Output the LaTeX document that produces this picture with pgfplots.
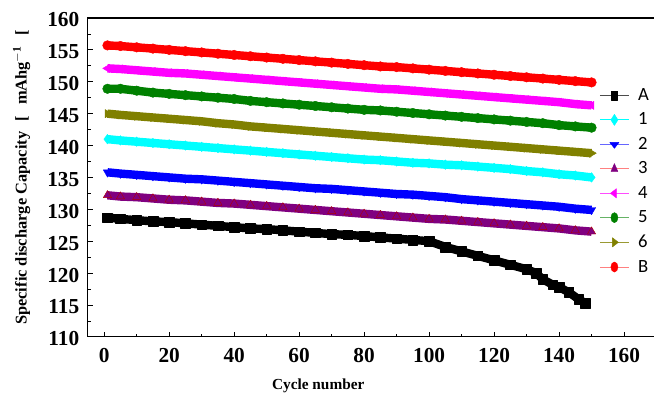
\documentclass[border=0pt]{standalone}
\usepackage{pgfplots}
\pgfplotsset{compat=1.18}
\usepackage{fontspec}
\setmainfont{Liberation Serif}
\newfontfamily\legfont{Carlito}
\definecolor{olv}{HTML}{808000}
\definecolor{prp}{HTML}{800080}
\definecolor{grn}{HTML}{008000}
\definecolor{mag}{HTML}{FF00FF}
\definecolor{cyn}{HTML}{00FFFF}
\definecolor{rd}{HTML}{FF0000}
\definecolor{bl}{HTML}{0000FF}
\begin{document}
\begin{tikzpicture}
\begin{axis}[
  name=ax,
  scale only axis,
  width=426.6pt, height=239.25pt,
  xmin=-5, xmax=170, ymin=110, ymax=160,
  xtick={0,20,...,160}, ytick={110,115,...,160},
  minor xtick={10,30,...,170}, minor ytick={112.5,117.5,...,157.5},
  tick align=inside, xtick pos=bottom, ytick pos=left,
  major tick length=3.5pt, minor tick length=2.2pt,
  /pgf/number format/assume math mode=true,
  ticklabel style={font=\fontsize{16}{18}\selectfont\bfseries},
  yticklabel style={xshift=-3pt, yshift=-1.5pt},
  xticklabel style={yshift=-5pt},
  label style={font=\fontsize{11.5}{14}\selectfont\bfseries},
  xlabel={Cycle number},
  ylabel={\fontsize{12.3}{14}\selectfont Specific discharge Capacity\hspace{8pt}[\hspace{8pt}mAhg$^{\mathbf{-1}}$\hspace{8pt}[},
  xlabel style={at={(ticklabel cs:0.405)}, anchor=north, yshift=-5pt},
  ylabel style={yshift=6pt},
  clip=false,
  axis line style={black, line width=0.8pt},
  every tick/.style={black, line width=0.6pt},
  legend style={at={(axis cs:152.3,149.4)}, anchor=north west, draw=none, fill=none,
    font=\legfont\fontsize{14}{16}\selectfont, row sep=3.8pt, inner sep=0pt,
    /tikz/every odd column/.append style={column sep=4.5pt}},
  legend cell align=left,
  legend image code/.code={\draw[mark repeat=2,mark phase=2,#1] plot coordinates {(0pt,0pt) (11pt,0pt) (22pt,0pt)};},
  every axis plot/.append style={line width=6.3pt, line join=round, mark size=3.6pt},
]
% legend images
\addlegendimage{black!70, line width=0.7pt, mark=square*, mark size=3.2pt, mark options={fill=black, draw=black, xscale=0.75, line width=0.3pt}}
\addlegendimage{cyn, line width=0.7pt, mark=diamond*, mark size=4.2pt, mark options={fill=cyn, draw=cyn, xscale=0.85, line width=0.3pt}}
\addlegendimage{bl!60, line width=0.7pt, mark=triangle*, mark size=4pt, mark options={fill=bl, draw=bl, rotate=180, yscale=0.75, line width=0.3pt}}
\addlegendimage{rd!50, line width=0.7pt, mark=triangle*, mark size=4pt, mark options={fill=prp, draw=prp, xscale=0.75, line width=0.3pt}}
\addlegendimage{mag!70, line width=0.7pt, mark=triangle*, mark size=4pt, mark options={fill=mag, draw=mag, rotate=90, yscale=0.75, line width=0.3pt}}
\addlegendimage{grn!60, line width=0.7pt, mark=*, mark size=3.8pt, mark options={fill=grn, draw=grn, xscale=0.7, line width=0.3pt}}
\addlegendimage{olv!80, line width=0.7pt, mark=triangle*, mark size=4pt, mark options={fill=olv, draw=olv, rotate=-90, yscale=0.75, line width=0.3pt}}
\addlegendimage{rd!50, line width=0.7pt, mark=*, mark size=3.8pt, mark options={fill=rd, draw=rd, xscale=0.7, line width=0.3pt}}
\legend{A,1,2,3,4,5,6,B}
% B
\addplot[rd, mark=*, mark options={fill=rd, draw=rd, line width=0.3pt}, forget plot] coordinates {
(1,155.7)(5,155.6)(10,155.4)(15,155.2)(20,155.0)(25,154.8)(30,154.6)(35,154.4)(40,154.2)(45,154.0)(50,153.8)(55,153.6)(60,153.4)(65,153.2)(70,153.0)(75,152.8)(80,152.6)(85,152.4)(90,152.3)(95,152.1)(100,151.9)(105,151.7)(110,151.5)(115,151.3)(120,151.1)(125,150.9)(130,150.7)(135,150.5)(140,150.3)(145,150.1)(150,149.9)};
% 4
\addplot[mag, mark=triangle*, mark options={fill=mag, draw=mag, rotate=90, line width=0.3pt}, forget plot] coordinates {
(1,152.1)(5,152.0)(10,151.8)(15,151.6)(20,151.4)(25,151.3)(30,151.1)(35,150.9)(40,150.7)(45,150.5)(50,150.3)(55,150.1)(60,149.9)(65,149.7)(70,149.5)(75,149.3)(80,149.1)(85,148.9)(90,148.8)(95,148.6)(100,148.4)(105,148.2)(110,148.0)(115,147.8)(120,147.6)(125,147.4)(130,147.2)(135,147.0)(140,146.8)(145,146.5)(150,146.3)};
% 5
\addplot[grn, mark=*, mark options={fill=grn, draw=grn, line width=0.3pt}, forget plot] coordinates {
(1,148.9)(5,148.9)(10,148.6)(15,148.3)(20,148.1)(25,147.9)(30,147.7)(35,147.5)(40,147.3)(45,147.0)(50,146.8)(55,146.6)(60,146.4)(65,146.2)(70,146.0)(75,145.8)(80,145.6)(85,145.5)(90,145.3)(95,145.1)(100,144.9)(105,144.7)(110,144.5)(115,144.3)(120,144.1)(125,143.9)(130,143.7)(135,143.5)(140,143.2)(145,143.0)(150,142.8)};
% 6
\addplot[olv, mark=triangle*, mark options={fill=olv, draw=olv, rotate=-90, line width=0.3pt}, forget plot] coordinates {
(1,145.0)(5,144.8)(10,144.6)(15,144.4)(20,144.2)(25,144.0)(30,143.8)(35,143.5)(40,143.3)(45,143.0)(50,142.8)(55,142.6)(60,142.4)(65,142.2)(70,142.0)(75,141.8)(80,141.6)(85,141.4)(90,141.2)(95,141.0)(100,140.8)(105,140.6)(110,140.4)(115,140.2)(120,140.0)(125,139.8)(130,139.6)(135,139.4)(140,139.2)(145,139.0)(150,138.8)};
% 1
\addplot[cyn, mark=diamond*, mark options={fill=cyn, draw=cyn, line width=0.3pt}, forget plot] coordinates {
(1,141.0)(5,140.8)(10,140.6)(15,140.4)(20,140.2)(25,140.0)(30,139.8)(35,139.6)(40,139.4)(45,139.2)(50,139.0)(55,138.8)(60,138.6)(65,138.4)(70,138.2)(75,138.0)(80,137.8)(85,137.7)(90,137.5)(95,137.3)(100,137.2)(105,137.0)(110,136.9)(115,136.7)(120,136.5)(125,136.3)(130,136.0)(135,135.8)(140,135.5)(145,135.3)(150,135.0)};
% 2
\addplot[bl, mark=triangle*, mark options={fill=bl, draw=bl, rotate=180, line width=0.3pt}, forget plot] coordinates {
(1,135.8)(5,135.6)(10,135.4)(15,135.2)(20,135.0)(25,134.8)(30,134.7)(35,134.5)(40,134.3)(45,134.1)(50,133.9)(55,133.7)(60,133.5)(65,133.3)(70,133.2)(75,133.0)(80,132.8)(85,132.6)(90,132.4)(95,132.3)(100,132.1)(105,131.9)(110,131.6)(115,131.4)(120,131.2)(125,131.0)(130,130.8)(135,130.6)(140,130.4)(145,130.1)(150,129.9)};
% 3
\addplot[prp, mark=triangle*, mark options={fill=prp, draw=rd!70!black, line width=0.3pt}, forget plot] coordinates {
(1,132.2)(5,132.0)(10,131.9)(15,131.7)(20,131.5)(25,131.4)(30,131.2)(35,131.0)(40,130.9)(45,130.7)(50,130.5)(55,130.3)(60,130.1)(65,129.9)(70,129.7)(75,129.5)(80,129.3)(85,129.1)(90,128.9)(95,128.7)(100,128.5)(105,128.4)(110,128.2)(115,128.0)(120,127.8)(125,127.6)(130,127.4)(135,127.2)(140,127.0)(145,126.7)(150,126.5)};
% A
\addplot[black, mark=square*, mark options={fill=black, draw=black, line width=0.3pt}, forget plot] coordinates {
(1,128.7)(5,128.5)(10,128.3)(15,128.1)(20,128.0)(25,127.8)(30,127.6)(35,127.4)(40,127.2)(45,127.0)(50,126.9)(55,126.7)(60,126.5)(65,126.3)(70,126.1)(75,126.0)(80,125.8)(85,125.6)(90,125.4)(95,125.2)(100,125.0)(105,124.1)(110,123.4)(115,122.7)(120,122.0)(125,121.3)(130,120.6)(133,120.0)(135,119.0)(138,118.2)(140,117.8)(143,117.0)(146,115.9)(148,115.3)};
\coordinate (BL) at (rel axis cs:0,0);
\coordinate (TR) at (rel axis cs:1,1);
\end{axis}
\coordinate (SW) at (current bounding box.south west);
\pgfresetboundingbox
\path ([xshift=-66pt]BL |- SW) rectangle ([xshift=-1.9pt, yshift=13.5pt]TR);
\end{tikzpicture}
\end{document}
